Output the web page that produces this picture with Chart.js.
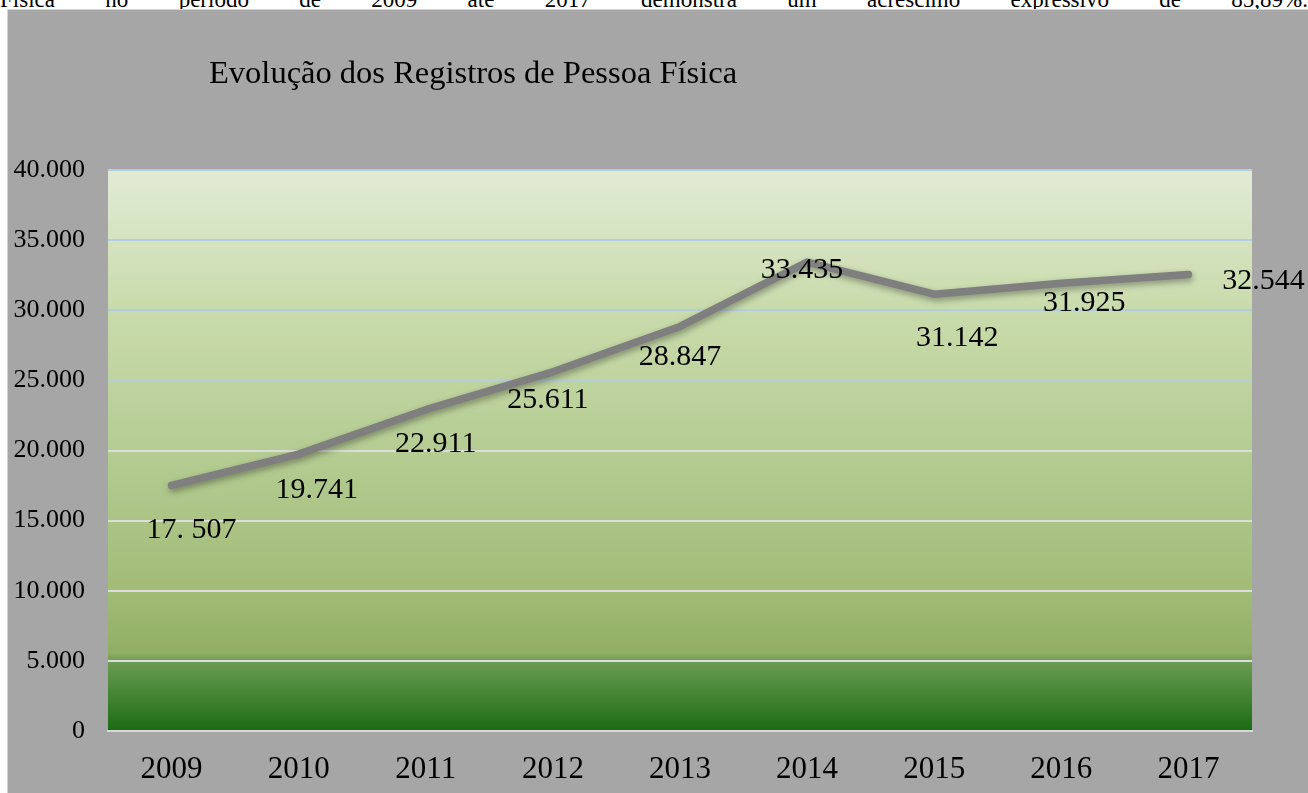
<!DOCTYPE html>
<html>
<head>
<meta charset="utf-8">
<script src="https://cdn.jsdelivr.net/npm/chart.js@4/dist/chart.umd.min.js"></script>
<style>
  html, body { margin: 0; padding: 0; background: #fff; }
  body { width: 1308px; height: 793px; position: relative; overflow: hidden; }
  #topText {
    position: absolute; left: 0; top: 0; width: 1308px; height: 10px;
    overflow: hidden; background: #fff;
  }
  #topText div {
    position: absolute; left: 0; top: -12px; width: 1308px;
    font: 23px "Liberation Serif", "Times New Roman", serif; line-height: 23px;
    text-align: justify; text-align-last: justify; color: #000; white-space: nowrap;
  }
  #box {
    position: absolute; left: 7px; top: 9px; width: 1301px; height: 784px;
    background: #a6a6a6; border-top: 1px solid #d4d4d4; border-left: 1px solid #d4d4d4;
  }
  canvas { position: absolute; left: 1px; top: 1px; }
</style>
</head>
<body>
<div id="topText"><div>Física no período de 2009 até 2017 demonstra um acréscimo expressivo de 85,89%.</div></div>
<div id="box"><canvas id="registrosChart" width="1300" height="783"></canvas></div>
<script>
const years = ["2009", "2010", "2011", "2012", "2013", "2014", "2015", "2016", "2017"];
const registros = [17507, 19741, 22911, 25611, 28847, 33435, 31142, 31925, 32544];
const registrosLabels = ["17. 507", "19.741", "22.911", "25.611", "28.847", "33.435", "31.142", "31.925", "32.544"];
const yTicks = [0, 5000, 10000, 15000, 20000, 25000, 30000, 35000, 40000];
const chartTitle = "Evolução dos Registros de Pessoa Física";

// where each data label sits relative to its point (like the hand-placed Excel labels)
const labelOffsets = [[20, 53], [18, 44], [10, 42], [-5, 36], [0, 39], [-5, 16], [23, 52], [23, 28], [75, 14]];

const serif = "'Liberation Serif', 'Times New Roman', serif";

function fmt(v) {
  return String(v).replace(/\B(?=(\d{3})+(?!\d))/g, ".");
}

const plotBackground = {
  id: "plotBackground",
  beforeDraw(chart) {
    const { ctx, chartArea: a } = chart;
    const g = ctx.createLinearGradient(0, a.top, 0, a.bottom);
    g.addColorStop(0, "#e1ebd5");
    g.addColorStop(0.25, "#c9dbab");
    g.addColorStop(0.5, "#b5cc93");
    g.addColorStop(0.75, "#a2bc77");
    g.addColorStop(0.86, "#91af64");
    g.addColorStop(0.876, "#6b9c52");
    g.addColorStop(1, "#1b6b13");
    ctx.save();
    ctx.fillStyle = g;
    ctx.fillRect(a.left, a.top, a.right - a.left, a.bottom - a.top);
    ctx.restore();
  }
};

const lineShadow = {
  id: "lineShadow",
  beforeDatasetDraw(chart) {
    const ctx = chart.ctx;
    ctx.save();
    ctx.shadowColor = "rgba(0,0,0,0.35)";
    ctx.shadowBlur = 6;
    ctx.shadowOffsetY = 3;
    ctx.shadowOffsetX = 1;
  },
  afterDatasetDraw(chart) {
    chart.ctx.restore();
  }
};

const textBits = {
  id: "textBits",
  afterDatasetsDraw(chart) {
    const ctx = chart.ctx;
    const pts = chart.getDatasetMeta(0).data;
    ctx.save();
    ctx.fillStyle = "#000";
    ctx.font = "30px " + serif;
    ctx.textAlign = "center";
    ctx.textBaseline = "alphabetic";
    pts.forEach((p, i) => {
      const o = labelOffsets[i];
      ctx.fillText(registrosLabels[i], p.x + o[0], p.y + o[1]);
    });
    ctx.font = "32.5px " + serif;
    ctx.textAlign = "left";
    ctx.fillText(chartTitle, 200, 72);
    ctx.restore();
  }
};

new Chart(document.getElementById("registrosChart"), {
  type: "line",
  data: {
    labels: years,
    datasets: [{
      data: registros,
      borderColor: "#7f7f7f",
      borderWidth: 7.5,
      borderCapStyle: "round",
      borderJoinStyle: "round",
      pointRadius: 0,
      pointHoverRadius: 0,
      tension: 0,
      fill: false,
    }],
  },
  options: {
    responsive: false,
    animation: false,
    events: [],
    layout: { padding: { top: 159, right: 57, bottom: 0, left: 0 } },
    plugins: {
      legend: { display: false },
      title: { display: false },
      tooltip: { enabled: false },
    },
    scales: {
      x: {
        offset: true,
        grid: { display: false, drawTicks: false },
        border: { display: true, color: "#d9d9d9", width: 2 },
        ticks: { color: "#000", font: { family: serif, size: 31 }, padding: 20, maxRotation: 0 },
        afterFit(scale) { scale.height = 63; },
      },
      y: {
        min: 0,
        max: 40000,
        afterBuildTicks(scale) { scale.ticks = yTicks.map(v => ({ value: v })); },
        grid: {
          drawTicks: false,
          lineWidth: 2,
          color: c => (c.tick && c.tick.value >= 25000 ? "#b3cde3" : "#dcdedb"),
        },
        border: { display: false },
        ticks: {
          color: "#000",
          font: { family: serif, size: 26 },
          padding: 23,
          callback: v => fmt(v),
        },
        afterFit(scale) { scale.width = 99; },
      },
    },
  },
  plugins: [plotBackground, lineShadow, textBits],
});
</script>
</body>
</html>
